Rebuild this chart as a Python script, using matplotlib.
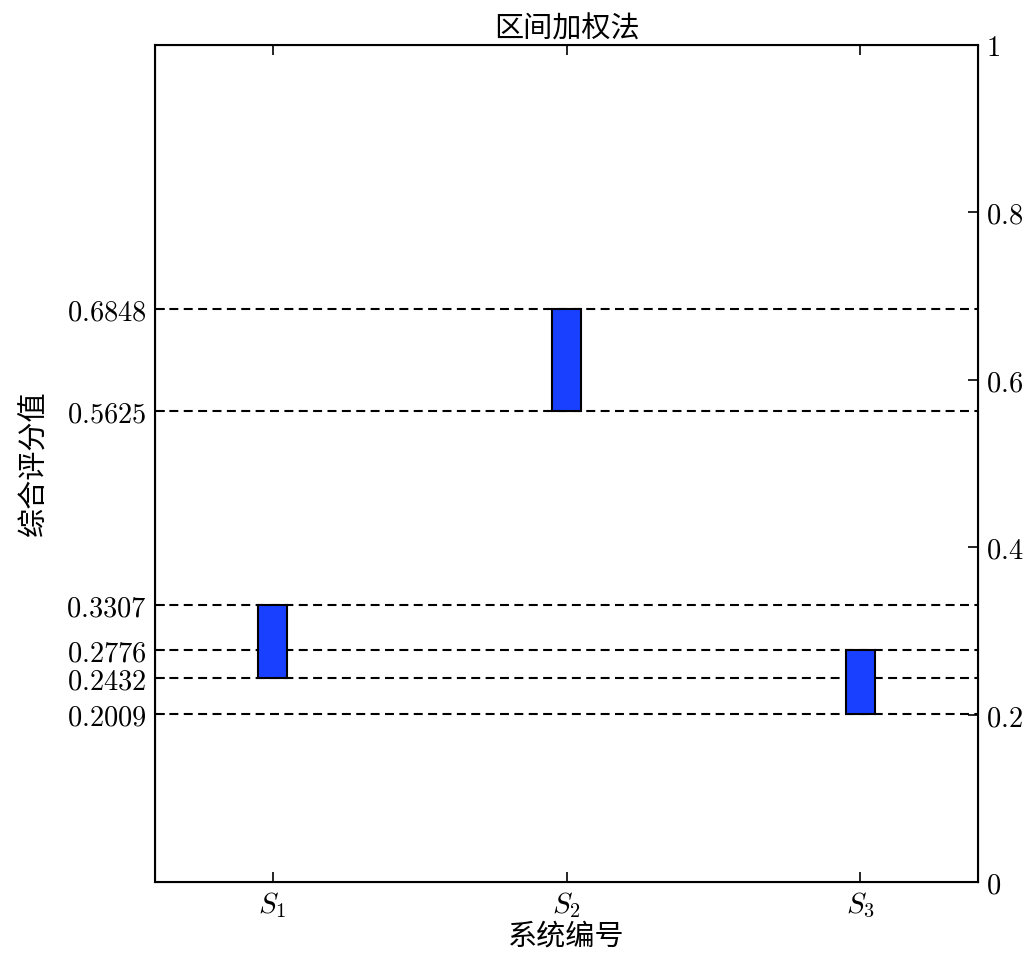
import matplotlib
matplotlib.use("Agg")
import matplotlib.pyplot as plt

plt.rcParams['font.family'] = ['Noto Sans CJK SC', 'DejaVu Sans']
plt.rcParams['mathtext.fontset'] = 'cm'

systems = ["$S_1$", "$S_2$", "$S_3$"]
low_values = [0.2432, 0.5625, 0.2009]
high_values = [0.3307, 0.6848, 0.2776]
level_values = [0.2009, 0.2432, 0.2776, 0.3307, 0.5625, 0.6848]
right_ticks = [0, 0.2, 0.4, 0.6, 0.8, 1.0]
right_labels = ["0", "0.2", "0.4", "0.6", "0.8", "1"]

fig = plt.figure(figsize=(10.24, 9.63), dpi=100)
ax = fig.add_axes([0.1514, 0.0841, 0.8037, 0.8692])

positions = list(range(1, len(systems) + 1))
heights = [h - l for h, l in zip(high_values, low_values)]
for v in level_values:
    ax.axhline(v, color="black", linestyle="--", linewidth=1.5, dashes=(4.3, 2.6), zorder=1)
ax.bar(positions, heights, bottom=low_values, width=0.1, color="#1a40ff",
       edgecolor="black", linewidth=1.5, zorder=2)

ax.set_xlim(0.6, 3.4)
ax.set_ylim(0, 1)
ax.set_xticks(positions)
ax.set_xticklabels(systems, fontsize=21)
ax.set_yticks(level_values)
ax.set_yticklabels(["$%.4f$" % v for v in level_values], fontsize=20.5)
ax.tick_params(direction="in", length=7, width=1.2, top=True, pad=6)
ax.set_xlabel("系统编号", fontsize=21, labelpad=1)
ax.set_ylabel("综合评分值", fontsize=21, labelpad=12)
ax.set_title("区间加权法", fontsize=21, pad=5)
for s in ax.spines.values():
    s.set_linewidth(1.5)

ax2 = ax.twinx()
ax2.set_ylim(0, 1)
ax2.set_yticks(right_ticks)
ax2.set_yticklabels(["$%s$" % t for t in right_labels], fontsize=20.5)
ax2.tick_params(direction="in", length=7, width=1.2, pad=6)

fig.savefig("out.png", dpi=100)
